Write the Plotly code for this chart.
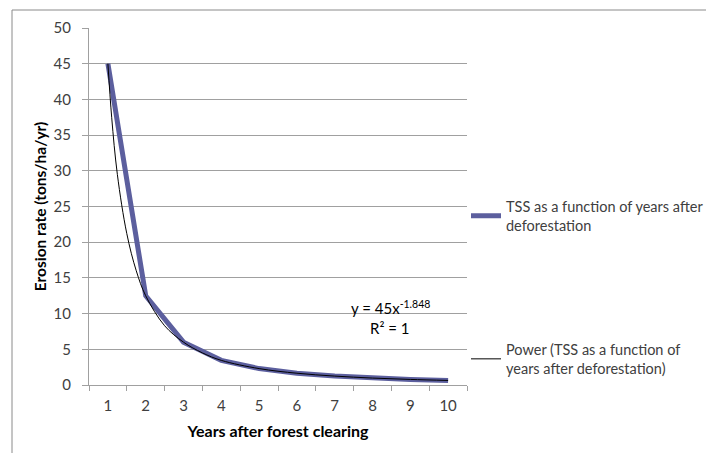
import plotly.graph_objects as go

years = [1, 2, 3, 4, 5, 6, 7, 8, 9, 10]
tss = [45, 12.5, 6.0, 3.45, 2.3, 1.65, 1.25, 0.97, 0.78, 0.64]

trend_x = [1, 1.1, 1.25, 1.5, 1.75, 2, 2.5, 3, 3.5, 4, 5, 6, 7, 8, 9, 10]
trend_y = [45, 37.5, 29.5, 21.2, 16.0, 12.5, 8.3, 6.0, 4.5, 3.45, 2.3, 1.65, 1.25, 0.97, 0.78, 0.64]

x_ticks = [1, 2, 3, 4, 5, 6, 7, 8, 9, 10]
y_ticks = [0, 5, 10, 15, 20, 25, 30, 35, 40, 45, 50]

FONT = "Lato"
OFF = 8  # default page margin of the html body
W, H = 714 - OFF, 453 - OFF
# plot area in screen pixels: x 89..467, y 28..385
L, T = 89 - OFF, 28 - OFF
R, B = W - (467 - OFF), H - (385 - OFF)
pw, ph = W - L - R, H - T - B

def px(x):
    return (x - OFF - L) / pw

def py(y):
    return (H - B - (y - OFF)) / ph

fig = go.Figure()
fig.add_trace(go.Scatter(
    x=years, y=tss, mode="lines",
    line=dict(color="#5c5f9e", width=5),
    name="TSS as a function of years after<br>deforestation",
    legend="legend", showlegend=True,
))
fig.add_trace(go.Scatter(
    x=trend_x, y=trend_y, mode="lines",
    line=dict(color="#000000", width=1, shape="spline"),
    name="Power (TSS as a function of<br>years after deforestation)",
    legend="legend2", showlegend=True,
))

fig.update_layout(
    width=W, height=H,
    showlegend=True,
    margin=dict(l=L, r=R, t=T, b=B, autoexpand=False),
    paper_bgcolor="white", plot_bgcolor="white",
    font=dict(family=FONT, size=15, color="#404040"),
    legend=dict(x=px(466), y=py(216), xanchor="left", yanchor="middle",
                bgcolor="rgba(0,0,0,0)", font=dict(size=14.5, color="#404040"),
                itemwidth=30, tracegroupgap=0, visible=True),
    legend2=dict(x=px(466), y=py(359), xanchor="left", yanchor="middle",
                 bgcolor="rgba(0,0,0,0)", font=dict(size=14.5, color="#404040"),
                 itemwidth=30, tracegroupgap=0, visible=True),
    xaxis=dict(
        range=[0.5, 10.5], tickvals=x_ticks, ticktext=[str(v) for v in x_ticks],
        ticks="", showgrid=False, zeroline=False, automargin=False,
        showline=True, linecolor="#a0a0a0", linewidth=1,
        tickfont=dict(size=15, color="#404040"), ticklabelstandoff=7,
        minor=dict(tickvals=[v + 0.5 for v in range(0, 11)], ticks="outside",
                   ticklen=5, tickcolor="#a0a0a0", showgrid=False),
        title=dict(text="<b>Years after forest clearing</b>",
                   font=dict(size=16, color="#000000"), standoff=12),
    ),
    yaxis=dict(
        range=[0, 50], tickvals=y_ticks, ticks="outside", ticklen=6,
        tickcolor="#a0a0a0", showgrid=True, gridcolor="#a0a0a0", gridwidth=1,
        zeroline=False, showline=True, linecolor="#a0a0a0", linewidth=1,
        automargin=False, ticklabelstandoff=8,
        tickfont=dict(size=15, color="#404040"),
        title=dict(text="<b>Erosion rate (tons/ha/yr)</b>",
                   font=dict(size=15.5, color="#000000"), standoff=3),
    ),
    annotations=[
        dict(x=px(390), y=py(307), xref="paper", yref="paper",
             xanchor="center", yanchor="middle",
             text="y = 45x<sup>-1.848</sup>", showarrow=False,
             font=dict(size=15, color="#000000")),
        dict(x=px(390), y=py(328), xref="paper", yref="paper",
             xanchor="center", yanchor="middle",
             text="R² = 1", showarrow=False,
             font=dict(size=15, color="#000000")),
    ],
    shapes=[
        dict(type="line", xref="paper", yref="paper",
             x0=px(12), x1=px(714), y0=py(10), y1=py(10),
             line=dict(color="#8a8a8a", width=1)),
        dict(type="line", xref="paper", yref="paper",
             x0=px(12), x1=px(12), y0=py(10), y1=py(453),
             line=dict(color="#8a8a8a", width=1)),
    ],
)

fig.write_html("out.html")
